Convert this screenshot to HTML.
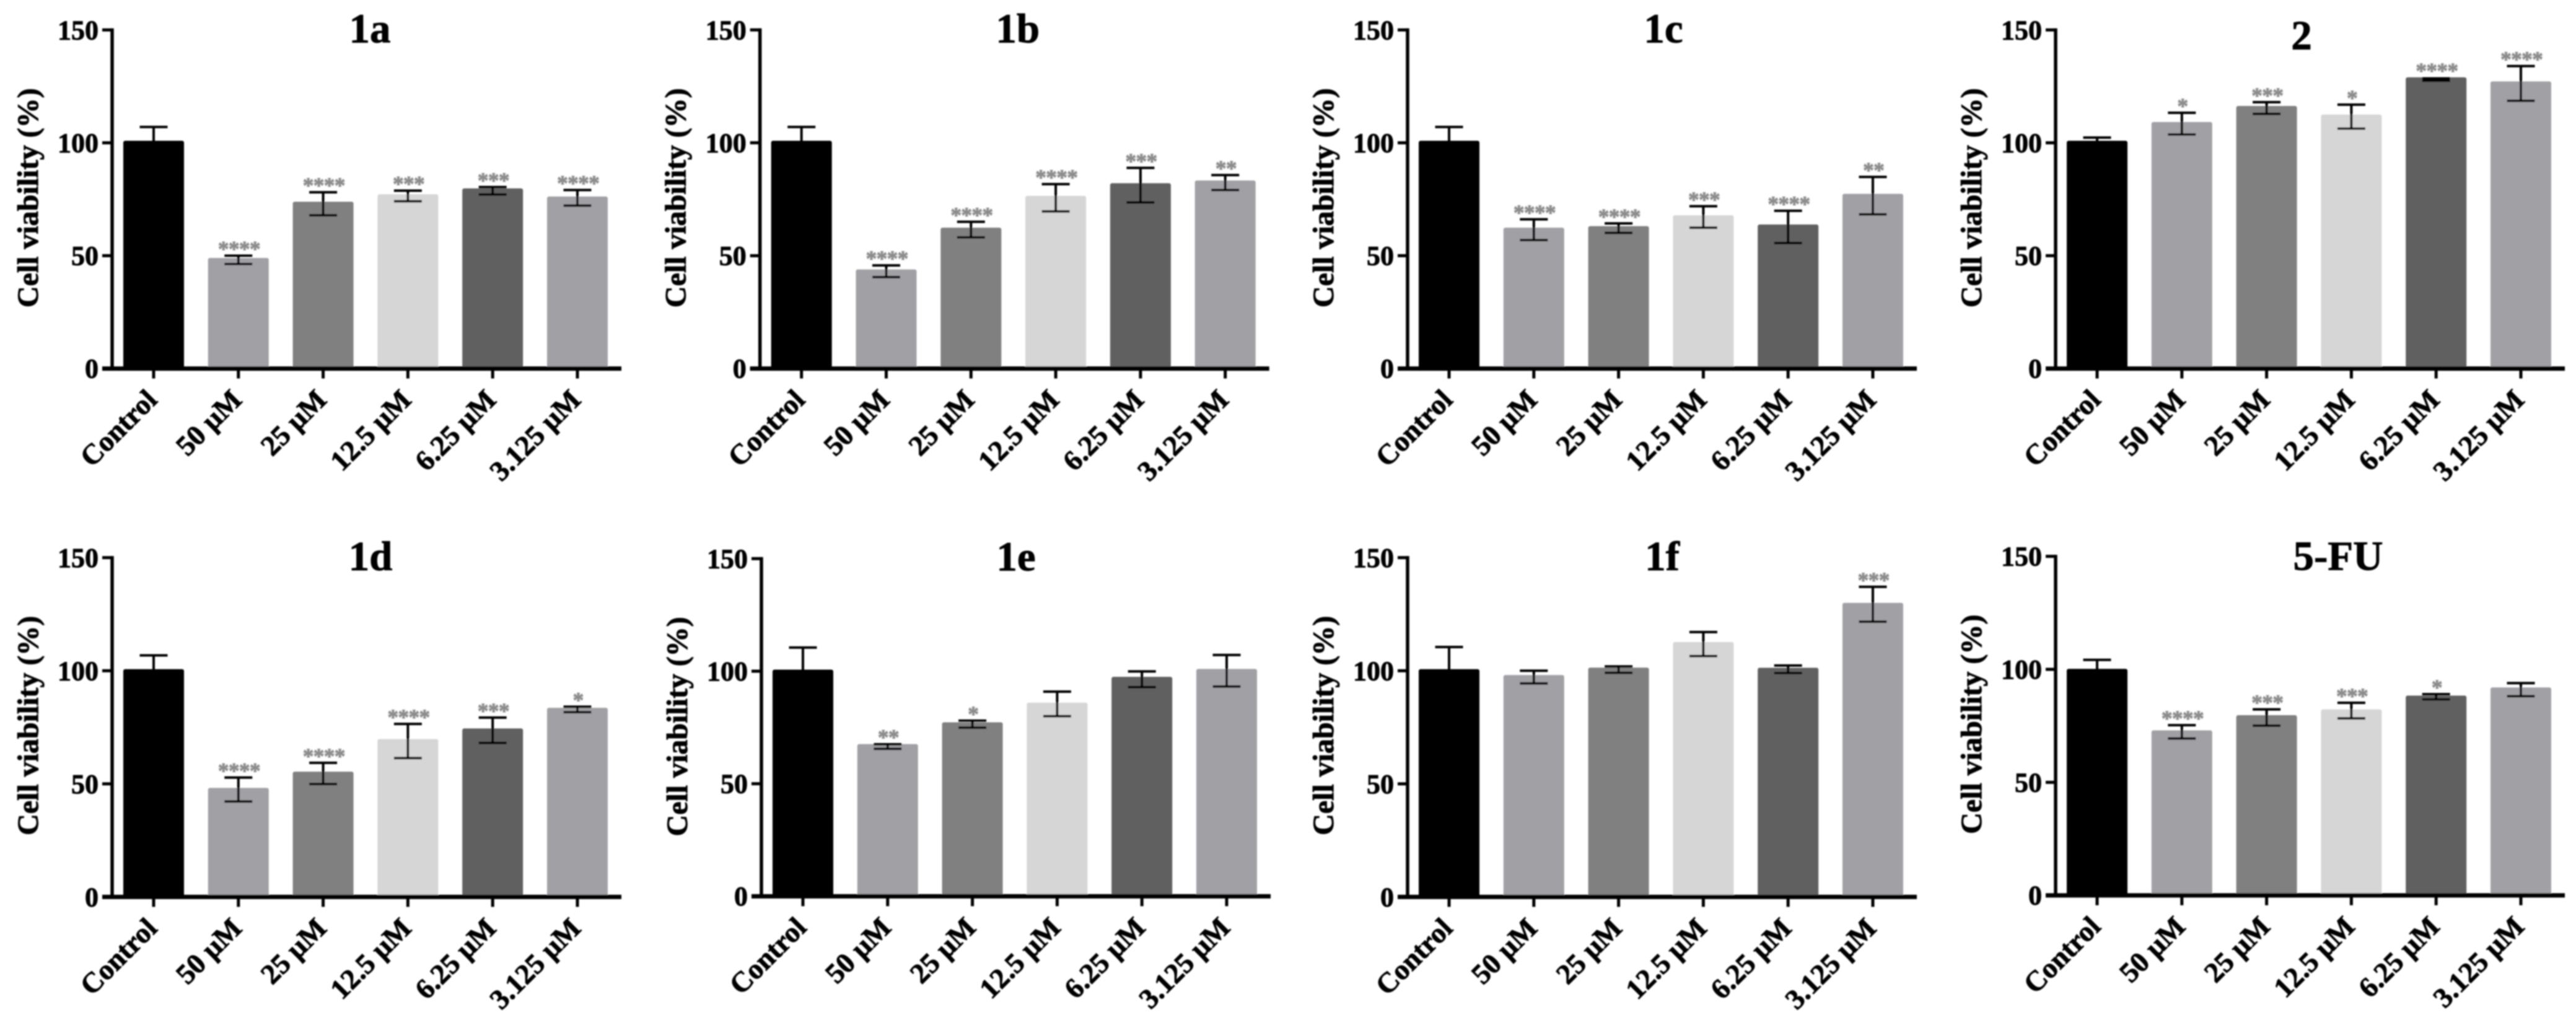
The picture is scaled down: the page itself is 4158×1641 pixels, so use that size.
<!DOCTYPE html>
<html lang="en">
<head>
<meta charset="utf-8">
<title>Cell viability panels</title>
<style>
  html, body { margin: 0; padding: 0; background: #fff; }
  #figure { display: block; width: 4158px; height: 1641px; }
  text { font-family: "Liberation Serif", serif; font-weight: bold; fill: #000; stroke: #000; stroke-width: 0.9px; }
</style>
</head>
<body>
<svg id="figure" xmlns="http://www.w3.org/2000/svg" width="4158" height="1641" viewBox="0 0 4158 1641">
  <defs>
    <filter id="soft" x="-2%" y="-2%" width="104%" height="104%"><feGaussianBlur stdDeviation="1"/></filter>
  </defs>
  <rect width="4158" height="1641" fill="#ffffff"/>
  <g id="root" filter="url(#soft)"></g>
</svg>
<script>
const categories = ["Control", "50 µM", "25 µM", "12.5 µM", "6.25 µM", "3.125 µM"];
const yTicks = [0, 50, 100, 150];
const yAxisTitle = "Cell viability (%)";
const barColors = ["#000000", "#a1a1a5", "#808080", "#d6d6d6", "#606060", "#a1a1a5"];

const values1a = [100.9, 49.0, 73.9, 77.2, 79.8, 76.2];
const high1a   = [107.0, 50.0, 78.1, 78.8, 80.4, 79.1];
const low1a    = [94.8, 46.3, 67.9, 74.1, 77.1, 72.2];
const sig1a    = ["", "****", "****", "***", "***", "****"];

const values1b = [100.9, 43.9, 62.4, 76.5, 82.1, 83.3];
const high1b   = [107.0, 45.7, 65.0, 81.7, 88.9, 85.7];
const low1b    = [94.8, 40.5, 58.1, 69.6, 73.6, 79.1];
const sig1b    = ["", "****", "****", "****", "***", "**"];

const values1c = [100.9, 62.4, 63.1, 67.9, 63.8, 77.4];
const high1c   = [107.0, 66.1, 64.3, 71.9, 69.9, 84.9];
const low1c    = [94.8, 56.9, 60.1, 62.4, 55.6, 68.3];
const sig1c    = ["", "****", "****", "***", "****", "**"];

const values2 = [100.9, 109.2, 116.3, 112.5, 129.0, 127.2];
const high2   = [102.3, 113.3, 118.0, 116.9, 128.5, 134.0];
const low2    = [99.5, 103.7, 112.8, 106.3, 127.5, 118.6];
const sig2    = ["", "*", "***", "*", "****", "****"];

const values1d = [100.7, 48.2, 55.4, 69.8, 74.5, 83.6];
const high1d   = [106.8, 52.8, 59.3, 76.5, 79.3, 84.1];
const low1d    = [94.6, 42.2, 49.9, 61.4, 68.1, 81.7];
const sig1d    = ["", "****", "****", "****", "***", "*"];

const values1e = [100.7, 67.6, 77.3, 86.0, 97.5, 101.0];
const high1e   = [110.5, 67.5, 78.0, 90.9, 99.9, 107.2];
const low1e    = [90.9, 65.5, 74.9, 80.0, 92.9, 93.2];
const sig1e    = ["", "**", "*", "", "", ""];

const values1f = [100.7, 98.1, 101.4, 112.7, 101.3, 130.0];
const high1f   = [110.5, 100.0, 101.9, 117.1, 102.3, 137.1];
const low1f    = [90.9, 94.4, 99.1, 106.5, 99.0, 121.7];
const sig1f    = ["", "", "", "", "", "***"];

const values5fu = [100.2, 73.0, 79.7, 82.3, 88.4, 92.0];
const high5fu   = [104.2, 75.3, 82.3, 85.2, 89.0, 93.9];
const low5fu    = [96.2, 69.4, 75.1, 78.3, 86.7, 88.1];
const sig5fu    = ["", "****", "***", "***", "*", ""];

const panels = [
  { id: "1a", title: "1a", values: values1a, high: high1a, low: low1a, sig: sig1a, axisX: 181, y0: 594.7, yTop: 48.3, titleDx: 416, titleDy: 20 },
  { id: "1b", title: "1b", values: values1b, high: high1b, low: low1b, sig: sig1b, axisX: 1226.7, y0: 594.7, yTop: 48.3, titleDx: 416, titleDy: 20 },
  { id: "1c", title: "1c", values: values1c, high: high1c, low: low1c, sig: sig1c, axisX: 2272, y0: 594.7, yTop: 48.3, titleDx: 413, titleDy: 20 },
  { id: "2", title: "2", values: values2, high: high2, low: low2, sig: sig2, axisX: 3318, y0: 594.7, yTop: 48.3, titleDx: 397, titleDy: 31 },
  { id: "1d", title: "1d", values: values1d, high: high1d, low: low1d, sig: sig1d, axisX: 181, y0: 1447.3, yTop: 899.8, titleDx: 417, titleDy: 20 },
  { id: "1e", title: "1e", values: values1e, high: high1e, low: low1e, sig: sig1e, axisX: 1229, y0: 1446.2, yTop: 901.4, titleDx: 411, titleDy: 19 },
  { id: "1f", title: "1f", values: values1f, high: high1f, low: low1f, sig: sig1f, axisX: 2272, y0: 1447.3, yTop: 899.8, titleDx: 411, titleDy: 20 },
  { id: "5fu", title: "5-FU", values: values5fu, high: high5fu, low: low5fu, sig: sig5fu, axisX: 3318, y0: 1444.7, yTop: 897.7, titleDx: 456, titleDy: 22 }
];

const NS = "http://www.w3.org/2000/svg";
const root = document.getElementById("root");
const BAR_OFFSET = 67, BAR_STEP = 136.8, BAR_WIDTH = 98, CAP_HALF = 22.5;

function make(tag, parent, attrs, content) {
  const node = document.createElementNS(NS, tag);
  for (const key in attrs) node.setAttribute(key, attrs[key]);
  if (content !== undefined) node.textContent = content;
  parent.appendChild(node);
  return node;
}

panels.forEach(function (p) {
  const yScale = function (v) { return p.y0 - (v / 150) * (p.y0 - p.yTop); };
  const xScale = function (i) { return p.axisX + BAR_OFFSET + i * BAR_STEP; };

  const g = make("g", root, {});
  
  

  p.values.forEach(function (v, i) {
    const bar = make("rect", g, {
      x: xScale(i) - BAR_WIDTH / 2, y: yScale(v), width: BAR_WIDTH,
      height: p.y0 - yScale(v), rx: 3, fill: barColors[i]
    });
    
    
  });

  p.values.forEach(function (v, i) {
    const cx = xScale(i), yHi = yScale(p.high[i]), yLo = yScale(p.low[i]);
    const err = make("path", g, {
      d: "M" + (cx - CAP_HALF) + " " + yHi + "H" + (cx + CAP_HALF) +
         "M" + cx + " " + yHi + "V" + yLo +
         "M" + (cx - CAP_HALF) + " " + yLo + "H" + (cx + CAP_HALF),
      fill: "none", stroke: "#000", "stroke-width": 4
    });
    
    

    if (p.sig[i]) {
      const star = make("text", g, {
        x: cx + 1, y: Math.min(yHi, yScale(v)) + 1, "text-anchor": "middle",
        "font-size": 36, "letter-spacing": -1, style: "fill:#8c8c8c;stroke:#8c8c8c;stroke-width:0.8px"
      }, p.sig[i]);
      
      
    }
  });

  const yAxis = make("line", g, { x1: p.axisX, x2: p.axisX, y1: p.yTop - 2.5, y2: p.y0, stroke: "#000", "stroke-width": 5.5 });
  
  

  const xAxis = make("line", g, { x1: p.axisX - 16, x2: p.axisX + 822, y1: p.y0, y2: p.y0, stroke: "#000", "stroke-width": 7 });
  
  

  yTicks.forEach(function (t) {
    const yy = yScale(t);
    const tick = make("line", g, { x1: p.axisX - 16, x2: p.axisX, y1: yy, y2: yy, stroke: "#000", "stroke-width": 5 });
    
    
    const label = make("text", g, { x: p.axisX - 22, y: yy + 15, "text-anchor": "end", "font-size": 44 }, String(t));
    
    
  });

  categories.forEach(function (c, i) {
    const cx = xScale(i);
    const tick = make("line", g, { x1: cx, x2: cx, y1: p.y0, y2: p.y0 + 16, stroke: "#000", "stroke-width": 5 });
    
    
    const lx = cx + 8, ly = p.y0 + 53;
    const label = make("text", g, {
      x: lx, y: ly, "text-anchor": "end", "font-size": 46,
      transform: "rotate(-45 " + lx + " " + ly + ")"
    }, c);
    
    
  });

  const ty = p.yTop + 271, tx = p.axisX - 120;
  const yTitle = make("text", g, {
    x: tx, y: ty, "text-anchor": "middle", "font-size": 48,
    textLength: 354, lengthAdjust: "spacing",
    transform: "rotate(-90 " + tx + " " + ty + ")"
  }, yAxisTitle);
  
  

  const title = make("text", g, {
    x: p.axisX + p.titleDx, y: p.yTop + p.titleDy, "text-anchor": "middle", "font-size": 67
  }, p.title);
  
  
});
</script>
</body>
</html>
